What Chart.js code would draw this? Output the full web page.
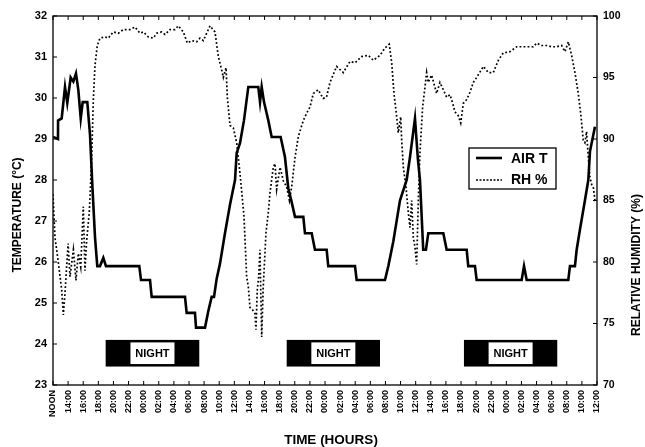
<!DOCTYPE html>
<html>
<head>
<meta charset="utf-8">
<script src="https://cdn.jsdelivr.net/npm/chart.js@4.4.1/dist/chart.umd.min.js"></script>
<style>
  html, body { margin: 0; padding: 0; background: #fff; }
  #wrap { width: 645px; height: 447px; position: relative; }
</style>
</head>
<body>
<div id="wrap"><canvas id="chart"></canvas></div>
<script>
// time in hours after noon of day 1
let xTickLabels = ['NOON', '14:00', '16:00', '18:00', '20:00', '22:00', '00:00', '02:00', '04:00', '06:00', '08:00', '10:00',
    '12:00', '14:00', '16:00', '18:00', '20:00', '22:00', '00:00', '02:00', '04:00', '06:00', '08:00', '10:00',
    '12:00', '14:00', '16:00', '18:00', '20:00', '22:00', '00:00', '02:00', '04:00', '06:00', '08:00', '10:00', '12:00'];

// air temperature (deg C)
let tempHours = [0, 0.66, 0.67, 1.15, 1.59, 1.89, 2.34, 2.69, 3.04, 3.35, 3.67, 3.93, 4.54, 4.9, 5.2, 5.56, 5.86, 6.22, 6.66, 7.01,
    11.42, 11.65, 12.84, 13.06, 17.47, 17.69, 18.79, 18.93, 20.12, 20.55, 21.0, 21.31, 21.67, 22.1, 22.76, 23.43, 24.09,
    24.31, 24.75, 25.28, 25.85, 27.17, 27.4, 27.62, 27.93, 28.49, 28.94, 30.13, 30.7, 31.14, 31.59, 32.03, 33.13, 33.35,
    34.24, 34.67, 36.22, 36.43, 39.97, 40.19, 43.94, 44.38, 45.04, 45.92, 46.81, 47.25, 47.91, 48.3, 48.57, 49.0, 49.36,
    49.67, 51.66, 52.1, 54.75, 54.96, 55.85, 56.07, 62.03, 62.34, 62.69, 68.2, 68.42, 69.08, 69.31, 69.75, 70.4, 70.85,
    71.07, 71.73];
let tempC = [29.05, 29.0, 29.45, 29.5, 30.27, 29.88, 30.5, 30.4, 30.6, 30.2, 29.5, 29.9, 29.9, 29.1, 27.9, 26.6, 25.9, 25.9, 26.1, 25.9,
    25.9, 25.56, 25.56, 25.15, 25.15, 24.76, 24.76, 24.4, 24.4, 24.8, 25.15, 25.15, 25.6, 25.96, 26.7, 27.4, 28.0,
    28.66, 28.9, 29.46, 30.27, 30.27, 29.9, 30.27, 29.9, 29.46, 29.05, 29.05, 28.56, 27.8, 27.46, 27.1, 27.1, 26.7,
    26.7, 26.3, 26.3, 25.9, 25.9, 25.56, 25.56, 25.9, 26.5, 27.5, 28.0, 28.56, 29.5, 28.5, 28.0, 26.3, 26.3,
    26.7, 26.7, 26.3, 26.3, 25.9, 25.9, 25.56, 25.56, 25.9, 25.56, 25.56, 25.9, 25.9, 26.3, 26.8, 27.5, 28.0,
    28.7, 29.3];

// relative humidity (%)
let rhHours = [0, 0.26, 0.7, 1.15, 1.37, 1.59, 1.8, 2.0, 2.25, 2.7, 3.04, 3.35, 3.67, 4.01, 4.23, 4.46, 4.8, 4.9, 5.12, 5.34,
    5.56, 5.86, 6.22, 6.88, 7.32, 7.98, 8.65, 9.31, 10.2, 10.86, 11.51, 11.95, 12.62, 13.28, 13.72, 14.38, 14.82, 15.48,
    16.14, 16.58, 17.25, 17.78, 18.36, 19.02, 19.45, 19.9, 20.34, 20.78, 21.44, 21.88, 22.33, 22.54, 22.9, 23.07, 23.43,
    23.87, 24.31, 24.75, 25.28, 25.63, 25.85, 26.07, 26.43, 26.73, 26.86, 27.03, 27.22, 27.39, 27.62, 27.83, 28.19, 28.49,
    28.72, 28.94, 29.16, 29.38, 29.6, 30.05, 30.49, 30.93, 31.29, 31.59, 32.03, 32.47, 33.13, 33.57, 34.01, 34.45, 35.1,
    35.76, 36.2, 36.66, 37.54, 38.42, 39.3, 39.97, 40.85, 41.73, 42.39, 43.28, 43.94, 44.5, 44.83, 45.13, 45.49, 45.7,
    46.02, 46.15, 46.37, 46.72, 47.03, 47.25, 47.47, 47.69, 47.91, 48.13, 48.35, 48.57, 48.92, 49.23, 49.45, 49.67, 50.11,
    50.55, 50.77, 51.21, 51.66, 52.1, 52.54, 52.9, 53.2, 53.64, 53.96, 54.31, 54.75, 55.19, 55.63, 56.07, 56.96, 57.62,
    58.28, 58.94, 59.6, 60.48, 61.37, 62.69, 63.57, 64.01, 64.68, 65.34, 66.0, 66.66, 67.32, 67.76, 68.2, 68.64, 69.08,
    69.52, 69.84, 70.18, 70.4, 70.62, 70.85, 71.07, 71.29, 71.51, 71.73, 72.0];
let rhPct = [85.5, 82.0, 80.0, 77.7, 75.7, 77.5, 79.6, 81.5, 78.8, 81.0, 78.5, 80.7, 79.6, 84.5, 79.3, 81.8, 84.0, 85.3, 88.5, 93.2,
    96.0, 97.6, 98.2, 98.3, 98.2, 98.7, 98.6, 98.9, 98.9, 99.1, 98.6, 98.7, 98.3, 98.2, 98.6, 98.7, 98.5, 98.9,
    98.9, 99.2, 98.7, 97.8, 98.0, 97.9, 98.2, 98.0, 98.6, 99.2, 98.7, 96.7, 95.6, 95.0, 95.8, 93.4, 91.1,
    90.9, 89.7, 87.2, 83.7, 78.8, 78.0, 76.3, 76.1, 75.8, 74.5, 77.7, 78.8, 81.0, 73.9, 78.0, 82.4, 84.0,
    85.6, 86.7, 87.7, 88.0, 85.9, 87.7, 86.6, 86.1, 85.0, 86.1, 88.5, 90.2, 91.5, 92.1, 92.6, 93.7, 94.0,
    93.3, 93.4, 94.6, 95.9, 95.4, 96.3, 96.2, 96.7, 96.8, 96.4, 96.8, 97.4, 97.7, 96.2, 93.7, 91.8, 90.5,
    91.8, 89.9, 87.7, 86.1, 84.0, 82.8, 85.0, 82.0, 81.2, 79.8, 85.0, 88.9, 92.6, 94.2, 95.4, 94.6, 95.2,
    94.2, 93.7, 94.6, 94.0, 93.4, 93.6, 92.9, 92.2, 91.9, 91.3, 92.9, 93.2, 93.8, 94.6, 95.0, 95.9, 95.4,
    95.4, 96.4, 97.0, 97.1, 97.5, 97.5, 97.5, 97.8, 97.6, 97.6, 97.5, 97.5, 97.6, 97.1, 97.9, 96.8, 95.4,
    93.7, 92.1, 89.9, 89.7, 90.6, 88.5, 86.9, 86.3, 86.1, 85.0, 85.0];

// night periods [start hour, end hour]
let nightSpans = [[6.97, 19.36], [30.93, 43.28], [54.39, 66.74]];

const FONT = '"Liberation Sans", Arial, sans-serif';

let extras = {
    id: 'extras',
    afterDraw(chart) {
        let ctx = chart.ctx;
        let a = chart.chartArea;
        let x = chart.scales.x, y = chart.scales.y, y1 = chart.scales.y1;
        ctx.save();

        // frame
        ctx.strokeStyle = '#000';
        ctx.lineWidth = 1.3;
        ctx.strokeRect(a.left, a.top, a.right - a.left, a.bottom - a.top);

        // inward ticks
        ctx.lineWidth = 1;
        ctx.beginPath();
        x.ticks.forEach(t => {
            let px = x.getPixelForValue(t.value);
            ctx.moveTo(px, a.bottom); ctx.lineTo(px, a.bottom - 4);
            ctx.moveTo(px, a.top); ctx.lineTo(px, a.top + 4);
        });
        y.ticks.forEach(t => {
            let py = y.getPixelForValue(t.value);
            ctx.moveTo(a.left, py); ctx.lineTo(a.left + 4, py);
        });
        y1.ticks.forEach(t => {
            let py = y1.getPixelForValue(t.value);
            ctx.moveTo(a.right, py); ctx.lineTo(a.right - 4, py);
        });
        ctx.stroke();

        // night bars
        nightSpans.forEach(([s, e]) => {
            let l = x.getPixelForValue(s), r = x.getPixelForValue(e);
            let top = y.getPixelForValue(24.1), bot = y.getPixelForValue(23.45);
            ctx.fillStyle = '#000';
            ctx.fillRect(l, top, r - l, bot - top);
            let cx = (l + r) / 2;
            ctx.fillStyle = '#fff';
            ctx.fillRect(cx - 22, top + 2.5, 44, bot - top - 5);
            ctx.fillStyle = '#000';
            ctx.font = 'bold 11px ' + FONT;
            ctx.textAlign = 'center';
            ctx.textBaseline = 'middle';
            ctx.fillText('NIGHT', cx, (top + bot) / 2 + 0.5);
        });

        // legend
        let lx = a.left + 416, ly = a.top + 132;
        ctx.fillStyle = '#fff';
        ctx.fillRect(lx, ly, 87, 41);
        ctx.strokeStyle = '#000';
        ctx.lineWidth = 1.3;
        ctx.strokeRect(lx, ly, 87, 41);
        ctx.lineWidth = 2.6;
        ctx.beginPath();
        ctx.moveTo(lx + 7, ly + 10); ctx.lineTo(lx + 33, ly + 10);
        ctx.stroke();
        ctx.lineWidth = 1.7;
        ctx.setLineDash([2, 1.5]);
        ctx.beginPath();
        ctx.moveTo(lx + 7, ly + 32); ctx.lineTo(lx + 33, ly + 32);
        ctx.stroke();
        ctx.setLineDash([]);
        ctx.fillStyle = '#000';
        ctx.font = 'bold 14px ' + FONT;
        ctx.textAlign = 'left';
        ctx.textBaseline = 'middle';
        ctx.fillText('AIR T', lx + 42, ly + 11);
        ctx.fillText('RH %', lx + 42, ly + 32);

        // axis titles
        ctx.font = 'bold 12px ' + FONT;
        ctx.textAlign = 'center';
        ctx.textBaseline = 'middle';
        ctx.save();
        ctx.translate(18, 215);
        ctx.rotate(-Math.PI / 2);
        ctx.fillText('TEMPERATURE (°C)', 0, 0);
        ctx.restore();
        ctx.save();
        ctx.translate(637, 265);
        ctx.rotate(-Math.PI / 2);
        ctx.fillText('RELATIVE HUMIDITY (%)', 0, 0);
        ctx.restore();
        ctx.font = 'bold 13.5px ' + FONT;
        ctx.fillText('TIME (HOURS)', 331, 440);

        ctx.restore();
    }
};

let data = {
    datasets: [{
        label: 'AIR T',
        data: tempHours.map((h, i) => ({ x: h, y: tempC[i] })),
        borderColor: '#000',
        borderWidth: 2.6,
        pointRadius: 0,
        tension: 0,
        yAxisID: 'y',
    }, {
        label: 'RH %',
        data: rhHours.map((h, i) => ({ x: h, y: rhPct[i] })),
        borderColor: '#000',
        borderWidth: 1.7,
        borderDash: [1.8, 2.2],
        pointRadius: 0,
        tension: 0,
        yAxisID: 'y1',
    }]
};

let config = {
    type: 'line',
    data: data,
    options: {
        responsive: true,
        maintainAspectRatio: false,
        animation: false,
        layout: { padding: { top: 16, left: 0, right: 0, bottom: 0 } },
        plugins: { legend: { display: false }, tooltip: { enabled: false } },
        scales: {
            x: {
                type: 'linear',
                min: 0,
                max: 72,
                afterFit: s => { s.height = 62; },
                grid: { display: false, drawTicks: false },
                border: { display: false },
                ticks: {
                    stepSize: 2,
                    autoSkip: false,
                    minRotation: 90,
                    maxRotation: 90,
                    padding: 5,
                    color: '#000',
                    font: { family: FONT, size: 9, weight: 'bold' },
                    callback: v => xTickLabels[Math.round(v / 2)],
                },
            },
            y: {
                position: 'left',
                min: 23,
                max: 32,
                afterFit: s => { s.width = 53; },
                grid: { display: false, drawTicks: false },
                border: { display: false },
                ticks: {
                    stepSize: 1,
                    padding: 6,
                    color: '#000',
                    font: { family: FONT, size: 11, weight: 'bold' },
                },
            },
            y1: {
                position: 'right',
                min: 70,
                max: 100,
                afterFit: s => { s.width = 48; },
                grid: { display: false, drawTicks: false },
                border: { display: false },
                ticks: {
                    stepSize: 5,
                    padding: 6,
                    color: '#000',
                    font: { family: FONT, size: 10.5, weight: 'bold' },
                },
            },
        },
    },
    plugins: [extras],
};

new Chart(document.getElementById('chart'), config);
</script>
</body>
</html>
